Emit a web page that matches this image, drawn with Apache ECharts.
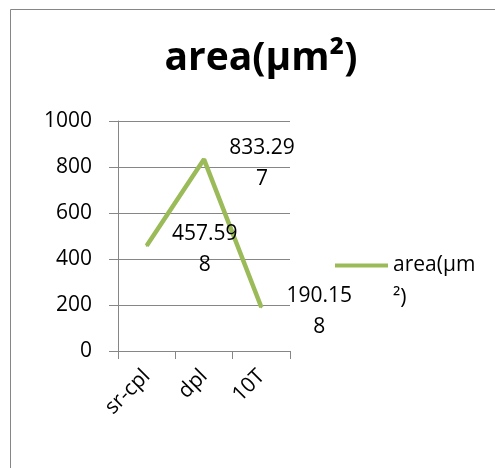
<!DOCTYPE html>
<html>
<head>
<meta charset="utf-8">
<script src="https://cdn.jsdelivr.net/npm/echarts@6/dist/echarts.min.js"></script>
<style>
html,body{margin:0;padding:0;background:#fff;}
#c{width:495px;height:468px;}
</style>
</head>
<body>
<div id="c"></div>
<script>
const categories = ['sr-cpl', 'dpl', '10T'];
const seriesName = 'area(µm²)';
const values = [457.598, 833.297, 190.158];
const yTicks = [0, 200, 400, 600, 800, 1000];

const FONT = 'Open Sans';
const chart = echarts.init(document.getElementById('c'));
chart.setOption({
  animation: false,
  backgroundColor: '#fff',
  graphic: [{
    type: 'rect',
    shape: { x: 10.5, y: 9.5, width: 700, height: 700 },
    style: { fill: 'none', stroke: '#868686', lineWidth: 1 },
    silent: true
  }],
  title: {
    text: seriesName,
    left: 256,
    textAlign: 'center',
    top: 34,
    textStyle: { fontFamily: FONT, fontSize: 39, fontWeight: 'bold', color: '#000' }
  },
  grid: { left: 118, right: 205, top: 121, bottom: 117 },
  legend: {
    left: 330,
    top: 211,
    icon: 'rect',
    itemWidth: 53,
    itemHeight: 4,
    itemGap: 0,
    formatter: n => ' \n' + n.slice(0, 7) + '\n' + n.slice(7),
    textStyle: { fontFamily: FONT, fontSize: 21, lineHeight: 33, color: '#000' },
    data: [seriesName]
  },
  xAxis: {
    type: 'category',
    data: categories,
    boundaryGap: true,
    axisLine: { lineStyle: { color: '#868686', width: 1 } },
    axisTick: { show: true, length: 8, lineStyle: { color: '#868686' } },
    axisLabel: { rotate: 45, margin: 22, fontFamily: FONT, fontSize: 21, color: '#000', interval: 0 }
  },
  yAxis: {
    type: 'value',
    min: yTicks[0],
    max: yTicks[yTicks.length - 1],
    interval: 200,
    axisLine: { show: true, lineStyle: { color: '#868686', width: 1 } },
    axisTick: { show: true, length: 9, lineStyle: { color: '#868686' } },
    axisLabel: { margin: 26, fontFamily: FONT, fontSize: 21, color: '#000', formatter: v => String(v) },
    splitLine: { lineStyle: { color: '#868686', width: 1 } }
  },
  series: [{
    name: seriesName,
    type: 'line',
    data: values,
    symbol: 'circle',
    symbolSize: 2,
    showSymbol: true,
    color: '#9BBB59',
    lineStyle: { color: '#9BBB59', width: 4.5 },
    itemStyle: { color: '#9BBB59' },
    label: {
      show: true,
      position: 'right',
      distance: 21,
      offset: [0, 4],
      formatter: p => {
        const s = String(p.value);
        return '{a|' + s.slice(0, 6) + '}\n{a|' + s.slice(6) + '}';
      },
      rich: { a: { width: 72, align: 'center', fontFamily: FONT, fontSize: 21, lineHeight: 31, color: '#000' } }
    }
  }]
});
</script>
</body>
</html>
